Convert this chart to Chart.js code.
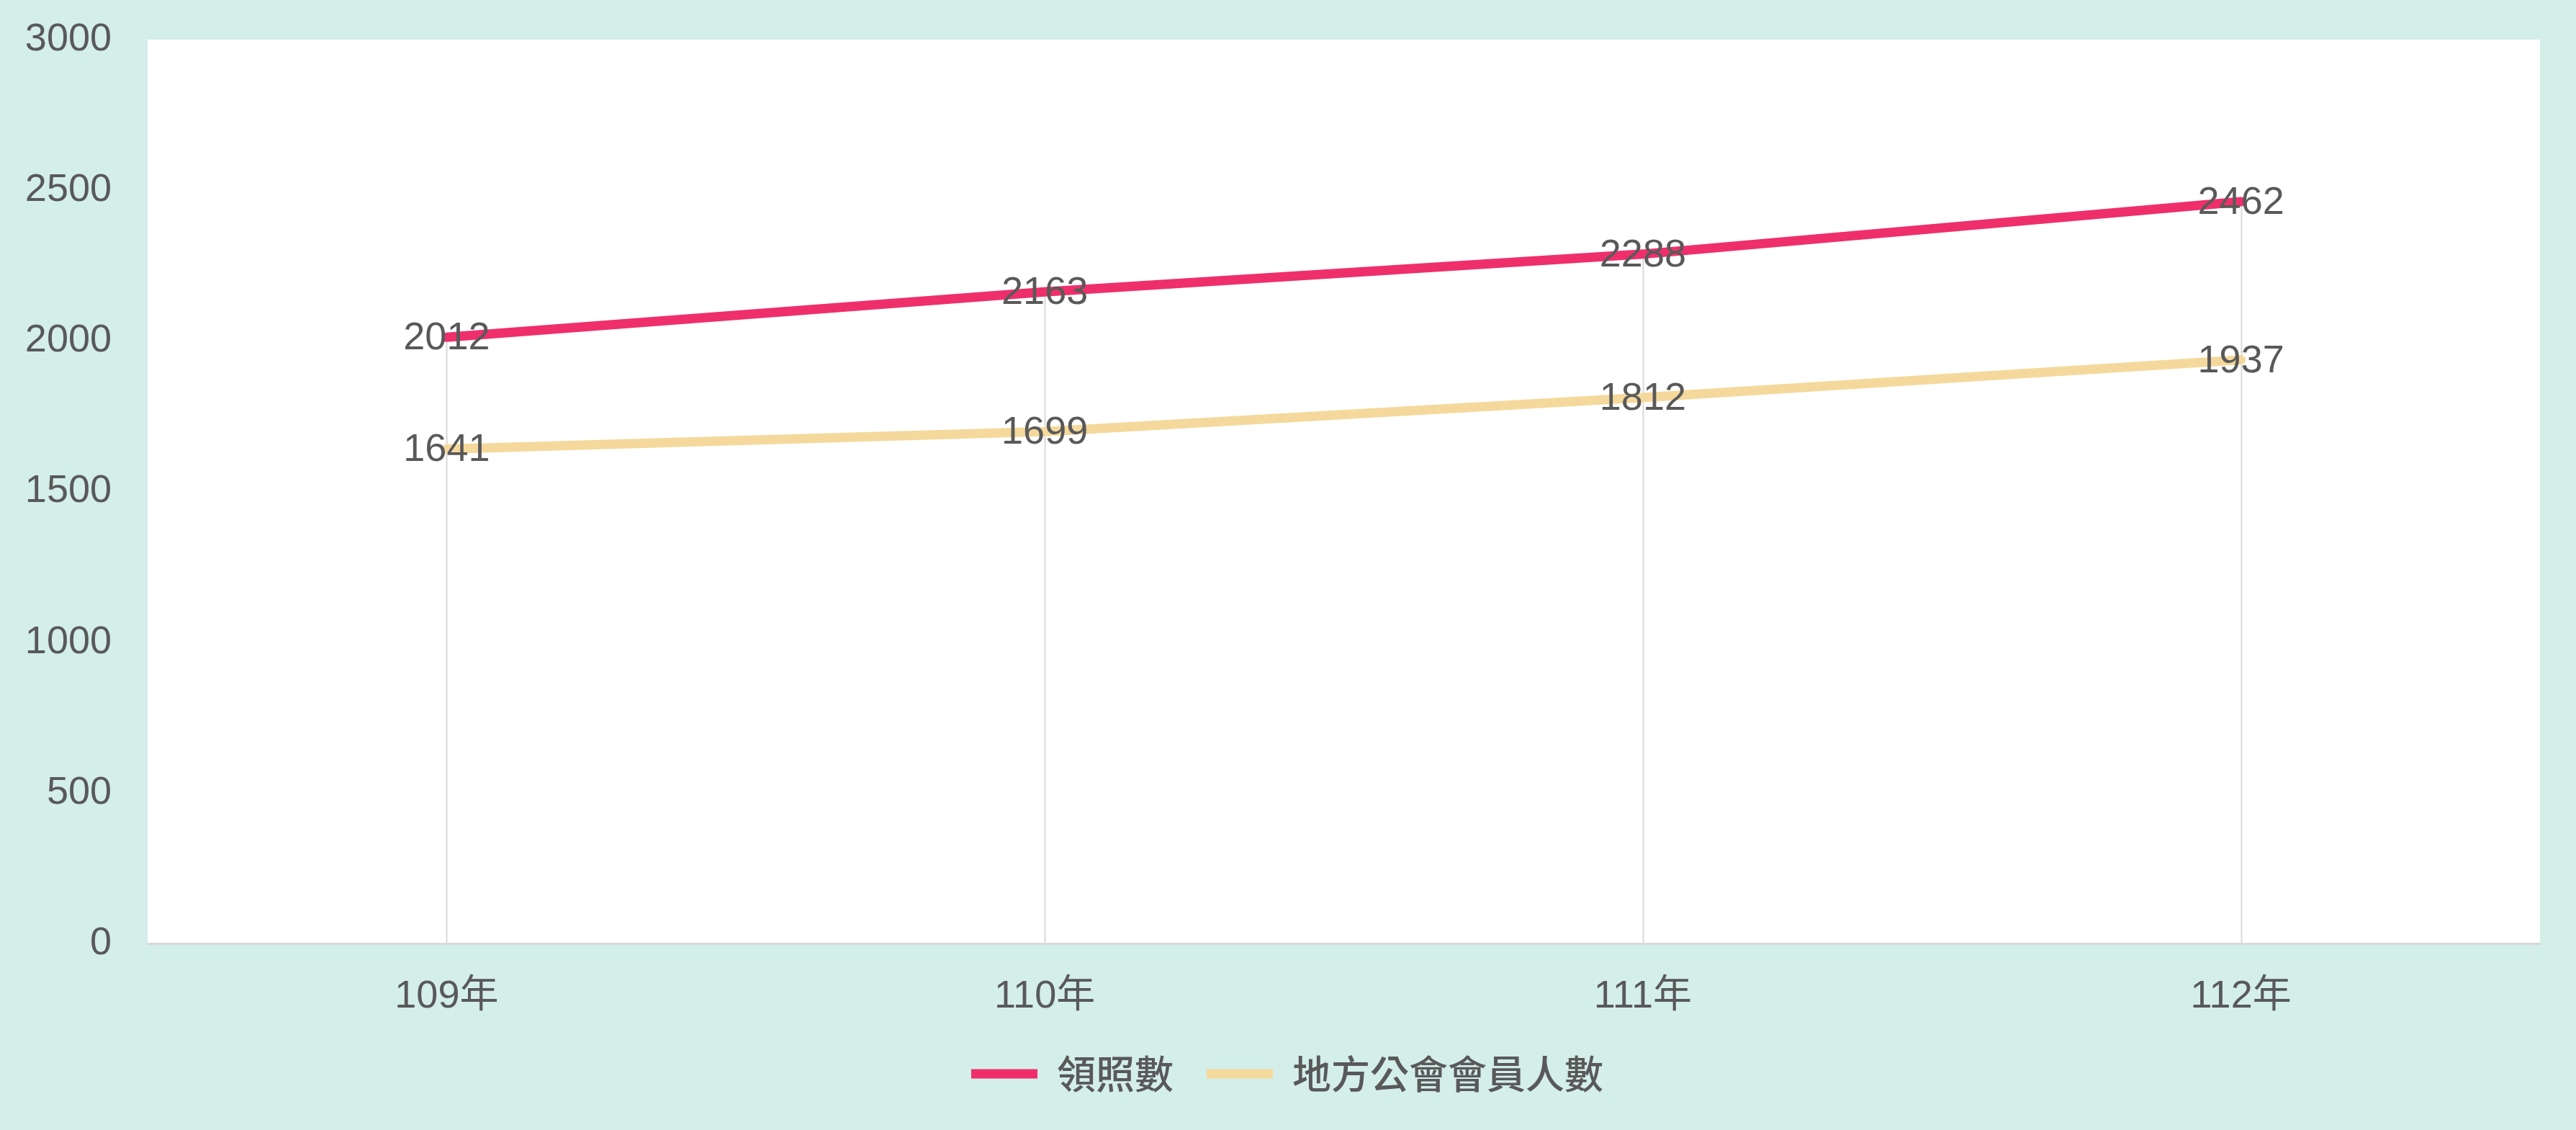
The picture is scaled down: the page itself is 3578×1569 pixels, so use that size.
<!DOCTYPE html>
<html>
<head>
<meta charset="utf-8">
<script src="https://cdn.jsdelivr.net/npm/chart.js@4.4.0/dist/chart.umd.min.js"></script>
<style>
  html, body { margin: 0; padding: 0; background: #d4eeea; }
  #wrap { width: 3578px; height: 1569px; }
</style>
</head>
<body>
<div id="wrap"><canvas id="c" width="3578" height="1569"></canvas></div>
<script>
const categories = ['109年', '110年', '111年', '112年'];
const licenses = [2012, 2163, 2288, 2462];
const members = [1641, 1699, 1812, 1937];
const seriesNames = ['領照數', '地方公會會員人數'];
const yTicks = [0, 500, 1000, 1500, 2000, 2500, 3000];

const TEXT = '#595959';
const FONT = '"Liberation Sans", Arial, "Noto Sans CJK TC", sans-serif';

const bgPlugin = {
  id: 'bg',
  beforeDraw(chart) {
    const {ctx, chartArea: a} = chart;
    ctx.save();
    ctx.fillStyle = '#d4eeea';
    ctx.fillRect(0, 0, chart.width, chart.height);
    ctx.fillStyle = '#ffffff';
    ctx.fillRect(a.left, a.top, a.right - a.left, a.bottom - a.top);
    ctx.restore();
  }
};

const legendShift = {
  id: 'legendShift',
  afterLayout(chart) {
    if (chart.legend) {
      chart.legend.left += 24;
      chart.legend.right += 24;
    }
  }
};

const dropLines = {
  id: 'dropLines',
  beforeDatasetsDraw(chart) {
    const {ctx, chartArea: a, scales: {x, y}} = chart;
    ctx.save();
    ctx.strokeStyle = '#d9d9d9';
    ctx.lineWidth = 2;
    categories.forEach((c, i) => {
      const top = Math.max(licenses[i], members[i]);
      const px = Math.round(x.getPixelForValue(i)) + 0.5;
      ctx.beginPath();
      ctx.moveTo(px, y.getPixelForValue(top));
      ctx.lineTo(px, a.bottom);
      ctx.stroke();
    });
    ctx.restore();
  }
};

const valueLabels = {
  id: 'valueLabels',
  afterDatasetsDraw(chart) {
    const {ctx} = chart;
    ctx.save();
    ctx.fillStyle = TEXT;
    ctx.font = '54px ' + FONT;
    ctx.textAlign = 'center';
    ctx.textBaseline = 'middle';
    chart.data.datasets.forEach((ds, di) => {
      const meta = chart.getDatasetMeta(di);
      meta.data.forEach((pt, i) => {
        ctx.fillText(String(ds.data[i]), pt.x, pt.y + 2);
      });
    });
    ctx.restore();
  }
};

new Chart(document.getElementById('c'), {
  type: 'line',
  data: {
    labels: categories,
    datasets: [
      {
        label: seriesNames[0],
        data: licenses,
        borderColor: '#ef2f6b',
        backgroundColor: '#ef2f6b',
        borderWidth: 13,
        borderCapStyle: 'round',
        borderJoinStyle: 'round',
        pointRadius: 0,
        pointHoverRadius: 0,
        tension: 0,
        pointStyle: 'line'
      },
      {
        label: seriesNames[1],
        data: members,
        borderColor: '#f5d99c',
        backgroundColor: '#f5d99c',
        borderWidth: 13,
        borderCapStyle: 'round',
        borderJoinStyle: 'round',
        pointRadius: 0,
        pointHoverRadius: 0,
        tension: 0,
        pointStyle: 'line'
      }
    ]
  },
  options: {
    responsive: false,
    maintainAspectRatio: false,
    devicePixelRatio: 1,
    animation: false,
    events: [],
    layout: { padding: { top: 55, left: 0, right: 50, bottom: 41 } },
    scales: {
      x: {
        type: 'category',
        offset: true,
        grid: { display: false, drawTicks: false },
        border: { display: true, color: '#d9d9d9', width: 3 },
        ticks: {
          color: TEXT,
          font: { family: FONT, size: 54 },
          padding: 42,
          maxRotation: 0
        },
        afterFit(s) { s.height = 108; }
      },
      y: {
        min: 0,
        max: 3000,
        grid: { display: false, drawTicks: false },
        border: { display: false },
        afterBuildTicks(s) { s.ticks = yTicks.map(v => ({ value: v })); },
        ticks: {
          color: TEXT,
          font: { family: FONT, size: 54 },
          padding: 50,
          callback: (v) => String(v)
        },
        afterFit(s) { s.width = 205; s.paddingTop = 0; s.paddingBottom = 0; }
      }
    },
    plugins: {
      legend: {
        position: 'bottom',
        labels: {
          usePointStyle: true,
          pointStyleWidth: 92,
          boxHeight: 54,
          padding: 46,
          color: TEXT,
          font: { family: '"Noto Sans CJK TC", "Liberation Sans", sans-serif', size: 54, weight: '500' }
        }
      },
      tooltip: { enabled: false }
    }
  },
  plugins: [bgPlugin, legendShift, dropLines, valueLabels]
});
</script>
</body>
</html>
